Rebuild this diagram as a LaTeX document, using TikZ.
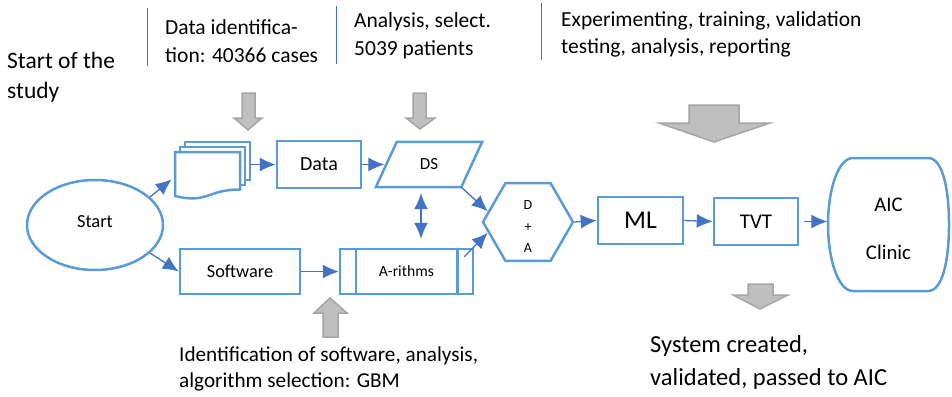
\documentclass[tikz,border=0pt]{standalone}
\usepackage{fontspec}
\setmainfont{Carlito}
\usepackage{tikz}
\usetikzlibrary{arrows.meta,shapes.geometric}

\definecolor{shapeblue}{HTML}{5B9BD5}
\definecolor{lineblue}{HTML}{4472C4}
\definecolor{arrowgray}{HTML}{BFBFBF}
\definecolor{arrowedge}{HTML}{A5A5A5}

\begin{document}
\begin{tikzpicture}[x=1pt,y=-1pt]
	
	\tikzset{box/.style = {draw=shapeblue,line width=2.5pt,inner sep=0pt,minimum width=84pt,minimum height=47pt}}
	\tikzset{edge/.style = {->,> = {Latex[length=16pt,width=14pt]},draw=lineblue,fill=lineblue,line width=1.3pt}}
	\tikzset{bigarrow/.style = {fill=arrowgray,draw=arrowedge,line width=1.5pt,line join=miter}}
	\tikzset{note/.style = {anchor=west,align=left,inner sep=0pt}}
	\tikzset{divider/.style = {draw=lineblue,line width=1pt}}
	\tikzset{page/.style = {fill=white,draw=shapeblue,line width=2.5pt}}
	
	\useasboundingbox (0,0) rectangle (952,396);
	
	% texts on top
	\node[note,font=\fontsize{23.5}{30}\selectfont] (studystart) at (7,77) {Start of the\\study};
	\draw[divider] (147,8) -- (147,66);
	\draw[divider] (336,6) -- (336,64);
	\draw[divider] (541,3) -- (541,60);
	\node[note,font=\fontsize{21.5}{28}\selectfont] (datanote) at (165,41) {Data identifica-\\tion: 40366 cases};
	\node[note,font=\fontsize{21.5}{28}\selectfont] (selnote) at (354,36) {Analysis, select.\\5039 patients};
	\node[note,font=\fontsize{21.5}{27}\selectfont] (expnote) at (561,34) {Experimenting, training, validation\\testing, analysis, reporting};
	
	% gray block arrows
	\filldraw[bigarrow] (242,93) -- (255,93) -- (255,118) -- (262,118) -- (248,130) -- (234,118) -- (242,118) -- cycle;
	\filldraw[bigarrow] (413,93) -- (426,93) -- (426,118) -- (435,118) -- (420,129) -- (406,118) -- (413,118) -- cycle;
	\filldraw[bigarrow] (689,105) -- (739,105) -- (739,123) -- (770,123) -- (714,142) -- (659,123) -- (689,123) -- cycle;
	\filldraw[bigarrow] (323,337) -- (338,337) -- (338,313) -- (347,313) -- (330,298) -- (314,313) -- (323,313) -- cycle;
	\filldraw[bigarrow] (748,284) -- (773,284) -- (773,295) -- (788,295) -- (760,309) -- (733,295) -- (748,295) -- cycle;
	
	% stack of documents
	\filldraw[page] (185,180) -- (185,142) -- (250,142) -- (250,180) -- cycle;
	\filldraw[page] (180,185) -- (180,147) -- (245,147) -- (245,185) -- cycle;
	\filldraw[page] (175,152) -- (240,152) -- (240,189.5) .. controls (207.5,189.5) and (207.5,204) .. (175,196) -- cycle;
	\node[minimum width=75pt,minimum height=55pt,inner sep=0pt] (docs) at (212.5,169.5) {};
	
	\node[ellipse,draw=shapeblue,line width=2.5pt,inner sep=0pt,minimum width=136pt,minimum height=90pt,font=\fontsize{18.4}{22}\selectfont] (start) at (95,225) {\raisebox{6pt}{Start}};
	\node[box,font=\fontsize{20}{24}\selectfont] (data) at (319,164.5) {Data};
	% DS parallelogram
	\node[inner sep=0pt,minimum width=85pt,minimum height=45pt,font=\fontsize{17}{20}\selectfont] (ds) at (429,164.5) {DS};
	\draw[shapeblue,line width=2.5pt,line join=miter] ([xshift=-10.5pt]ds.south west) -- ([xshift=10.5pt]ds.north west) -- ([xshift=10.5pt]ds.north east) -- ([xshift=-10.5pt]ds.south east) -- cycle;
	\node[box,minimum width=120pt,minimum height=45pt,font=\fontsize{18.3}{22}\selectfont] (soft) at (240,271.5) {Software};
	\node[box,minimum width=133pt,minimum height=45pt,font=\fontsize{15.7}{19}\selectfont] (alg) at (406.5,271.5) {A-rithms};
	\draw[shapeblue,line width=2.5pt] ([xshift=17pt]alg.north west) -- ([xshift=17pt]alg.south west);
	\draw[shapeblue,line width=2.5pt] ([xshift=-17pt]alg.north east) -- ([xshift=-17pt]alg.south east);
	\node[regular polygon,regular polygon sides=6,draw=shapeblue,line width=2.5pt,inner sep=0pt,minimum size=90pt] (da) at (528,222) {};
	\node[align=center,inner sep=0pt,font=\fontsize{14}{21.5}\selectfont] (datext) at (528,227) {D\\+\\A};
	\node[box,minimum width=85pt,font=\fontsize{25.6}{30}\selectfont] (ml) at (640.5,220.5) {ML};
	\node[box,font=\fontsize{20.9}{25}\selectfont] (tvt) at (756,221.5) {TVT};
	\node[align=center,inner sep=0pt,minimum width=122pt,minimum height=133pt,font=\fontsize{20.8}{48}\selectfont] (aic) at (888.5,228.5) {AIC\\Clinic};
	\draw[shapeblue,line width=2.5pt] (853,158) -- (928,158) .. controls (943,158) and (949,190) .. (949,224.5) .. controls (949,259) and (943,291) .. (928,291) -- (853,291) .. controls (838,291) and (828,259) .. (828,224.5) .. controls (828,190) and (838,158) .. (853,158) -- cycle;
	
	% texts below
	\node[note,font=\fontsize{21.2}{26}\selectfont] (swnote) at (179,369) {Identification of software, analysis,\\algorithm selection: GBM};
	\node[note,font=\fontsize{24.5}{33}\selectfont] (result) at (650,362.5) {System created,\\validated, passed to AIC};
	
	% connectors
	\coordinate (dsfoot) at ([xshift=-8pt]ds.south);
	\draw[edge,shorten >=4pt] (start.27) -- (docs.191);
	\draw[edge] (start.-27) -- (soft.west);
	\draw[edge] (docs.east |- data.west) -- (data.west);
	\draw[edge,shorten >=2pt] (data.east) -- (ds.west);
	\draw[edge] ([xshift=-10.5pt]ds.south east) -- (da.165);
	\draw[edge] ([xshift=-10pt,yshift=-9pt]alg.north east) -- (da.195);
	\draw[edge] (soft.east) -- (alg.west);
	\draw[edge,<->,shorten <=6pt,shorten >=9pt] (dsfoot) -- (dsfoot |- alg.north);
	\draw[edge] (da.east) -- (ml.west);
	\draw[edge] (ml.east) -- (tvt.west);
	\draw[edge,shorten <=5pt] (tvt.east) -- (tvt.east -| aic.west);
\end{tikzpicture}
\end{document}
